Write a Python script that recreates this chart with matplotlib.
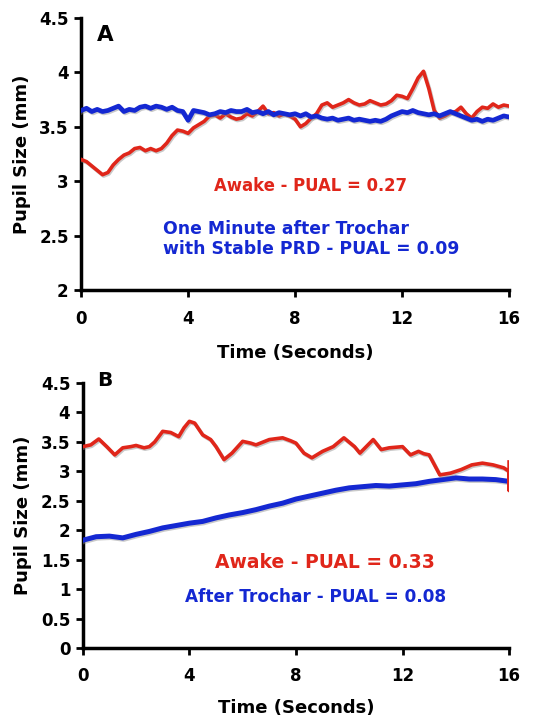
import matplotlib
matplotlib.use("Agg")
import matplotlib.pyplot as plt
import matplotlib.patheffects as pe

# --- data (time in seconds, pupil size in mm) ---

# Panel A
t_awake_a = [0, 0.2, 0.4, 0.6, 0.8, 1.0, 1.2, 1.4, 1.6, 1.8, 2.0, 2.2, 2.4, 2.6, 2.8,
             3.0, 3.2, 3.4, 3.6, 3.8, 4.0, 4.2, 4.4, 4.6, 4.8, 5.0, 5.2, 5.4, 5.6, 5.8,
             6.0, 6.2, 6.4, 6.6, 6.8, 7.0, 7.2, 7.4, 7.6, 7.8, 8.0, 8.2, 8.4, 8.6, 8.8,
             9.0, 9.2, 9.4, 9.6, 9.8, 10.0, 10.2, 10.4, 10.6, 10.8, 11.0, 11.2, 11.4,
             11.6, 11.8, 12.0, 12.2, 12.4, 12.6, 12.8, 13.0, 13.2, 13.4, 13.6, 13.8,
             14.0, 14.2, 14.4, 14.6, 14.8, 15.0, 15.2, 15.4, 15.6, 15.8, 16.0]
awake_a = [3.20, 3.18, 3.14, 3.10, 3.06, 3.08, 3.15, 3.20, 3.24, 3.26, 3.30, 3.31, 3.28,
           3.30, 3.28, 3.30, 3.35, 3.42, 3.47, 3.46, 3.44, 3.49, 3.52, 3.55, 3.60, 3.61,
           3.58, 3.62, 3.59, 3.57, 3.58, 3.62, 3.60, 3.64, 3.69, 3.62, 3.63, 3.60, 3.62,
           3.60, 3.57, 3.50, 3.53, 3.58, 3.62, 3.70, 3.72, 3.68, 3.70, 3.72, 3.75, 3.72,
           3.70, 3.71, 3.74, 3.72, 3.70, 3.71, 3.74, 3.79, 3.78, 3.76, 3.85, 3.95, 4.01,
           3.85, 3.65, 3.58, 3.60, 3.63, 3.64, 3.68, 3.62, 3.58, 3.64, 3.68, 3.67, 3.71,
           3.68, 3.70, 3.69]

t_trochar_a = t_awake_a
trochar_a = [3.65, 3.67, 3.64, 3.66, 3.64, 3.65, 3.67, 3.69, 3.64, 3.66, 3.65, 3.68, 3.69,
             3.67, 3.69, 3.68, 3.66, 3.68, 3.65, 3.64, 3.56, 3.65, 3.64, 3.63, 3.61, 3.62,
             3.64, 3.63, 3.65, 3.64, 3.64, 3.66, 3.63, 3.64, 3.62, 3.64, 3.61, 3.63, 3.62,
             3.61, 3.62, 3.60, 3.62, 3.59, 3.60, 3.58, 3.57, 3.58, 3.56, 3.57, 3.58, 3.56,
             3.57, 3.56, 3.55, 3.56, 3.55, 3.57, 3.60, 3.62, 3.64, 3.63, 3.65, 3.63, 3.62,
             3.61, 3.62, 3.60, 3.62, 3.64, 3.62, 3.60, 3.58, 3.56, 3.57, 3.55, 3.57, 3.56,
             3.58, 3.60, 3.59]

# Panel B
t_awake_b = [0, 0.3, 0.6, 0.9, 1.2, 1.5, 1.8, 2.0, 2.3, 2.5, 2.7, 3.0, 3.3, 3.6, 3.8,
             4.0, 4.2, 4.5, 4.8, 5.0, 5.3, 5.6, 6.0, 6.3, 6.5, 7.0, 7.5, 7.8, 8.0, 8.3,
             8.6, 9.0, 9.4, 9.8, 10.2, 10.4, 10.9, 11.2, 11.5, 12.0, 12.3, 12.6, 12.8,
             13.0, 13.4, 13.8, 14.2, 14.6, 15.0, 15.4, 15.8, 16.0, 16.0, 16.0]
awake_b = [3.42, 3.45, 3.55, 3.42, 3.28, 3.40, 3.42, 3.44, 3.40, 3.42, 3.50, 3.68, 3.66,
           3.59, 3.74, 3.85, 3.82, 3.62, 3.54, 3.42, 3.20, 3.31, 3.51, 3.48, 3.45, 3.54,
           3.57, 3.52, 3.48, 3.31, 3.23, 3.34, 3.42, 3.57, 3.42, 3.31, 3.54, 3.37, 3.40,
           3.42, 3.28, 3.34, 3.30, 3.28, 2.94, 2.97, 3.03, 3.11, 3.14, 3.11, 3.06, 3.00,
           2.68, 3.16]

t_trochar_b = [0, 0.5, 1.0, 1.5, 2.0, 2.5, 3.0, 3.5, 4.0, 4.5, 5.0, 5.5, 6.0, 6.5, 7.0,
               7.5, 8.0, 8.5, 9.0, 9.5, 10.0, 10.5, 11.0, 11.5, 12.0, 12.5, 13.0, 13.5,
               14.0, 14.5, 15.0, 15.5, 16.0]
trochar_b = [1.83, 1.89, 1.90, 1.87, 1.93, 1.98, 2.04, 2.08, 2.12, 2.15, 2.21, 2.26, 2.30,
             2.35, 2.41, 2.46, 2.53, 2.58, 2.63, 2.68, 2.72, 2.74, 2.76, 2.75, 2.77, 2.79,
             2.83, 2.86, 2.89, 2.87, 2.87, 2.86, 2.83]

RED = "#e0261a"
BLUE = "#1428d2"

fig = plt.figure(figsize=(5.41, 7.18), dpi=100)
ax_a = fig.add_axes([0.150, 0.596, 0.791, 0.379])
ax_b = fig.add_axes([0.153, 0.0975, 0.788, 0.369])

shadow = [pe.SimpleLineShadow(offset=(0.8, -1.0), shadow_color="#888888", alpha=0.45),
          pe.Normal()]


def style_axes(ax, ylim, yticks, xlabelpad):
    ax.set_xlim(0, 16)
    ax.set_ylim(*ylim)
    ax.set_xticks([0, 4, 8, 12, 16])
    ax.set_yticks(yticks)
    ax.set_yticklabels([f"{v:g}" for v in yticks])
    for side in ("top", "right"):
        ax.spines[side].set_visible(False)
    for side in ("left", "bottom"):
        ax.spines[side].set_linewidth(2.5)
    ax.tick_params(axis="y", direction="out", length=5, width=2, labelsize=12, pad=4)
    ax.tick_params(axis="x", direction="out", length=5, width=2, labelsize=12, pad=9)
    for lab in ax.get_xticklabels() + ax.get_yticklabels():
        lab.set_fontweight("bold")
    ax.set_xlabel("Time (Seconds)", fontsize=13, fontweight="bold", labelpad=xlabelpad)
    ax.set_ylabel("Pupil Size (mm)", fontsize=13, fontweight="bold", labelpad=6)


# --- Panel A ---
ax_a.plot(t_awake_a, awake_a, color=RED, lw=2.6, path_effects=shadow, zorder=3)
ax_a.plot(t_trochar_a, trochar_a, color=BLUE, lw=3.4, path_effects=shadow, zorder=4)
style_axes(ax_a, (2, 4.5), [2, 2.5, 3, 3.5, 4, 4.5], 12)
ax_a.text(0.037, 0.975, "A", transform=ax_a.transAxes, fontsize=15.5, fontweight="bold",
          va="top", ha="left")
ax_a.text(0.31, 0.382, "Awake - PUAL = 0.27", transform=ax_a.transAxes, color=RED,
          fontsize=11.9, fontweight="bold", va="center", ha="left")
ax_a.text(0.191, 0.1875, "One Minute after Trochar\nwith Stable PRD - PUAL = 0.09",
          transform=ax_a.transAxes, color=BLUE, fontsize=12.4, fontweight="bold",
          va="center", ha="left", linespacing=1.2)

# --- Panel B ---
ax_b.plot(t_trochar_b, trochar_b, color=BLUE, lw=3.6, path_effects=shadow, zorder=3)
ax_b.plot(t_awake_b, awake_b, color=RED, lw=2.6, path_effects=shadow, zorder=4)
style_axes(ax_b, (0, 4.5), [0, 0.5, 1, 1.5, 2, 2.5, 3, 3.5, 4, 4.5], 10)
ax_b.text(0.033, 1.045, "B", transform=ax_b.transAxes, fontsize=14.5, fontweight="bold",
          va="top", ha="left")
ax_b.text(0.31, 0.321, "Awake - PUAL = 0.33", transform=ax_b.transAxes, color=RED,
          fontsize=13.5, fontweight="bold", va="center", ha="left")
ax_b.text(0.24, 0.193, "After Trochar - PUAL = 0.08", transform=ax_b.transAxes,
          color=BLUE, fontsize=12.2, fontweight="bold", va="center", ha="left")

fig.savefig("out.png", dpi=100)
